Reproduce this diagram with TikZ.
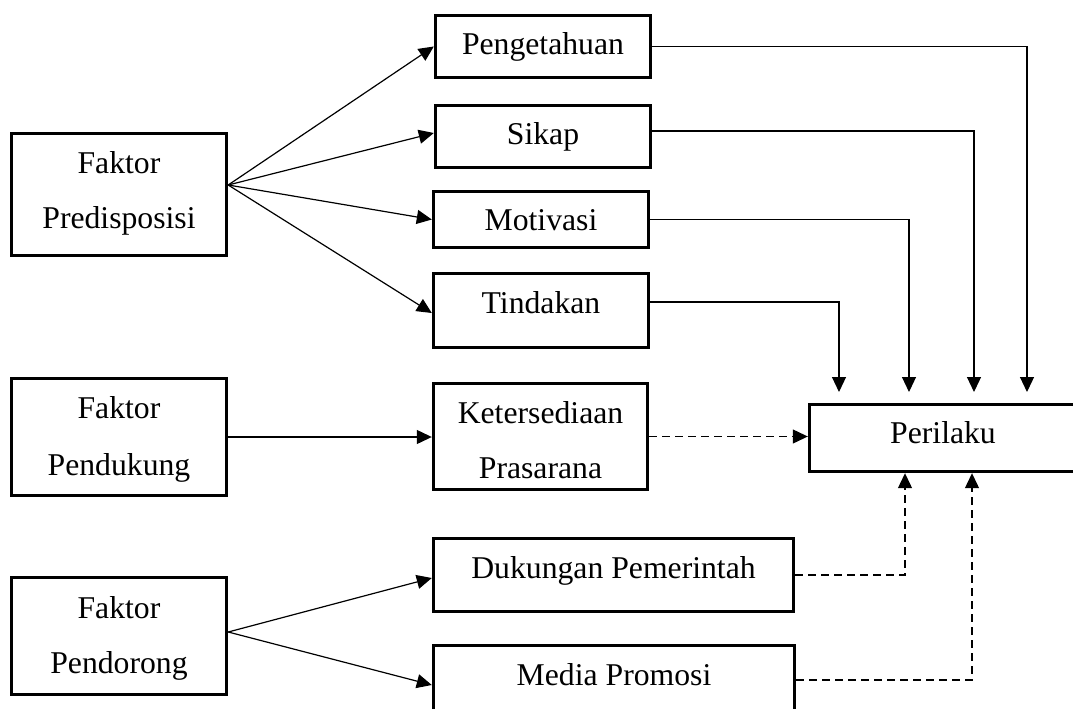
\documentclass[tikz,border=0pt]{standalone}
\usepackage{fontspec}
\setmainfont{Liberation Serif}
\usetikzlibrary{arrows.meta}
\begin{document}
\begin{tikzpicture}[x=1pt,y=-1pt,
  box/.style={draw, line width=3.4pt, inner sep=0pt},
  txt/.style={anchor=base, inner sep=0pt, font=\fontsize{31.7}{38}\selectfont},
  conn/.style={line width=1.2pt, -{Triangle[length=15pt,width=14pt]}},
  dconn/.style={conn, dash pattern=on 8pt off 5pt}]
\useasboundingbox (0,0) rectangle (1073,709);
\clip (0,0) rectangle (1073,709);
% boxes
\node[box, minimum width=215pt, minimum height=122pt] (pred)  at (119,194.5) {};
\node[box, minimum width=215pt, minimum height=62pt]  (peng)  at (543,46.5) {};
\node[box, minimum width=215pt, minimum height=62pt]  (sikap) at (543,136.5) {};
\node[box, minimum width=215pt, minimum height=56pt]  (motiv) at (541,219.5) {};
\node[box, minimum width=215pt, minimum height=74pt]  (tind)  at (541,310.5) {};
\node[box, minimum width=215pt, minimum height=117pt] (pend)  at (119,437) {};
\node[box, minimum width=214pt, minimum height=106pt] (ket)   at (540.5,436.5) {};
\node[box, minimum width=267pt, minimum height=67pt]  (peril) at (943,438) {};
\node[box, minimum width=360pt, minimum height=73pt]  (duk)   at (613.5,575) {};
\node[box, minimum width=361pt, minimum height=73pt]  (media) at (614,682) {};
\node[box, minimum width=215pt, minimum height=117pt] (pdrg)  at (119,636) {};
% texts
\node[txt] (predA) at (119,173) {Faktor};
\node[txt] (predB) at (119,228) {Predisposisi};
\node[txt] (pengT) at (543,55) {Pengetahuan};
\node[txt] (sikapT) at (543,144) {Sikap};
\node[txt] (motivT) at (541,230) {Motivasi};
\node[txt] (tindT) at (541,313) {Tindakan};
\node[txt] (pendA) at (119,418) {Faktor};
\node[txt] (pendB) at (119,475) {Pendukung};
\node[txt] (ketA) at (540.5,423) {Ketersediaan};
\node[txt] (ketB) at (540.5,478) {Prasarana};
\node[txt] (perilT) at (943,443) {Perilaku};
\node[txt] (dukT) at (613.5,578) {Dukungan Pemerintah};
\node[txt] (mediaT) at (614,685) {Media Promosi};
\node[txt] (pdrgA) at (119,618) {Faktor};
\node[txt] (pdrgB) at (119,673) {Pendorong};
% helper coordinates
\coordinate (p1) at (839,392);
\coordinate (p2) at (909,392);
\coordinate (p3) at (974,392);
\coordinate (p4) at (1027,392);
\coordinate (q1) at (905,0);
\coordinate (q2) at (972,0);
% fan from predisposisi
\draw[conn] ([yshift=9.5pt]pred.east) -- (peng.west);
\draw[conn] ([yshift=9.5pt]pred.east) -- ([yshift=3.5pt]sikap.west);
\draw[conn] ([yshift=9.5pt]pred.east) -- (motiv.west);
\draw[conn] ([yshift=9.5pt]pred.east) -- ([yshift=-2.5pt]tind.west);
% to perilaku from top
\draw[conn] (peng.east) -| (p4);
\draw[conn] ([yshift=5.5pt]sikap.east) -| (p3);
\draw[conn] (motiv.east) -| (p2);
\draw[conn] ([yshift=8.5pt]tind.east) -| (p1);
% pendukung
\draw[conn] (pend.east) -- (pend.east -| ket.west);
\draw[dconn] (ket.east) -- (ket.east -| peril.west);
% pendorong
\draw[conn] ([yshift=4pt]pdrg.east) -- ([yshift=-3pt]duk.west);
\draw[conn] ([yshift=4pt]pdrg.east) -- ([yshift=-3pt]media.west);
\draw[dconn] (duk.east) -| (q1 |- peril.south);
\draw[dconn] ([yshift=2pt]media.east) -| (q2 |- peril.south);
\end{tikzpicture}
\end{document}
